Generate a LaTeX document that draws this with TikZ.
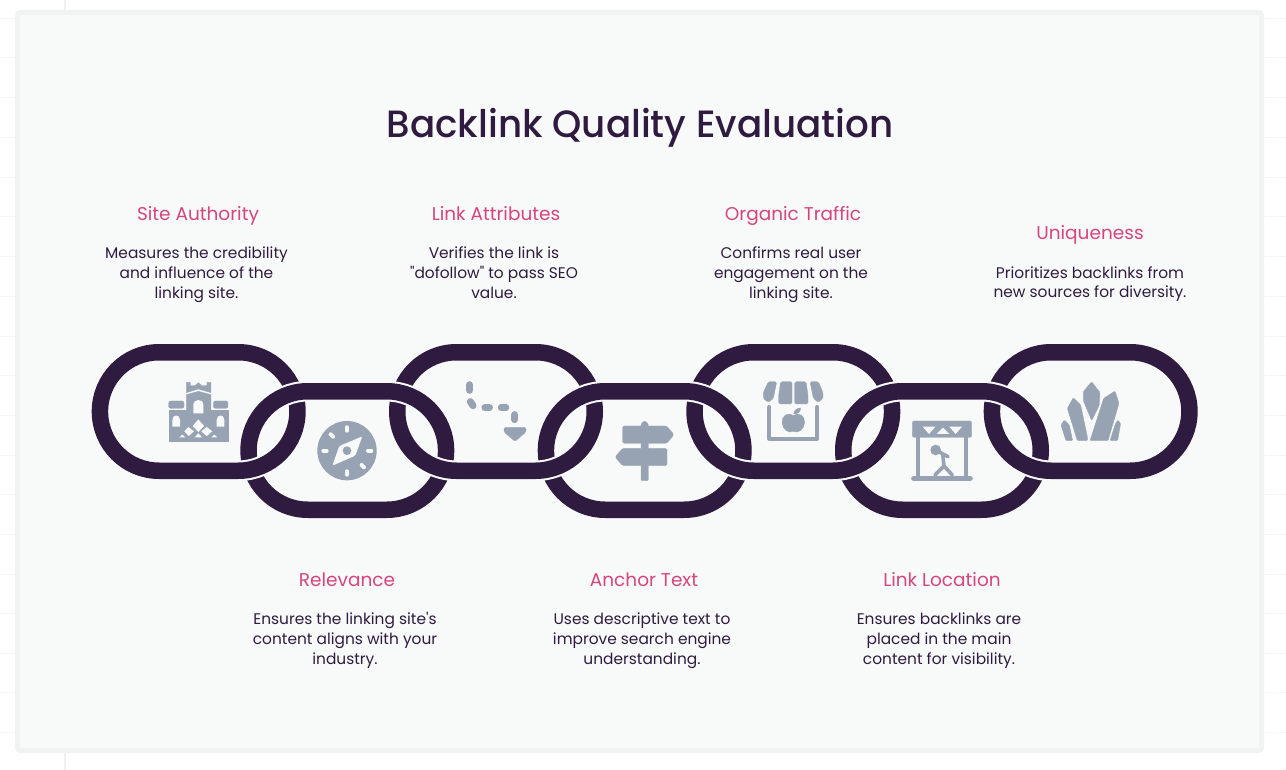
\documentclass[tikz,border=0pt]{standalone}
\usepackage{fontspec}
\newfontfamily\labelfont{Poppins}
\newfontfamily\titlefont[FakeStretch=0.98]{Poppins Medium}
\definecolor{ink}{HTML}{2F1B3F}
\definecolor{hue}{HTML}{D6457F}
\definecolor{slate}{HTML}{97A3B3}
\definecolor{panelbg}{HTML}{F8FAF9}
\definecolor{panelrim}{HTML}{F1F2F2}
\definecolor{gridc}{HTML}{EFF0F0}
\tikzset{
 titletext/.style={text=ink,font=\titlefont\fontsize{38}{48}\selectfont,inner sep=0pt,anchor=base},
 headtext/.style={text=hue,font=\labelfont\fontsize{18.5}{22}\selectfont,inner sep=0pt,anchor=base},
 bodytext/.style={text=ink,font=\labelfont\fontsize{15.4}{19.7}\selectfont,align=center,inner sep=0pt,execute at begin node=\strut,execute at end node=\strut},
 strand/.style={draw=ink,line width=16.5pt},
 halo/.style={draw=panelbg,line width=20.6pt},
 icon/.style={fill=slate,draw=slate,line width=.3pt,line join=round},
 iconline/.style={draw=slate,line cap=round,line join=round},
 cutout/.style={fill=panelbg},
 zA/.style={shift={(80pt,-330pt)},x=.33333pt,y=-.33333pt},
 zB/.style={shift={(440pt,-330pt)},x=.33333pt,y=-.33333pt},
 zC/.style={shift={(820pt,-330pt)},x=.33333pt,y=-.33333pt},
}
\newcommand{\chainloop}[3]{% left, centre y, style
 \path[#3,rounded corners=59.2pt] ({#1+8.25},{#2-59.25}) rectangle ({#1+205.75},{#2+59.25});}
\begin{document}
\begin{tikzpicture}[x=1pt,y=-1pt]
\useasboundingbox (0,0) rectangle (1286,770);
\fill[white] (0,0) rectangle (1286,770);
% faint canvas grid
\foreach \g in {18,57,97,137,177,216,256,296,336,375,415,455,494,534,574,613,653,692,732}
  \draw[gridc,line width=.8pt,densely dotted] (0,\g) -- (1286,\g);
\draw[gridc,line width=1.2pt] (65,0) -- (65,770);
% panel
\draw[panelrim,fill=panelbg,line width=5pt,rounded corners=3pt] (17.5,12.5) rectangle (1261.5,750.5);
% title
\node[titletext] (title) at (640,137.5) {Backlink Quality Evaluation};
% chain: lower-lying links first
\foreach \l in {240.3,537.7,835}{\chainloop{\l}{450.5}{strand}}
\foreach \l in {91.7,389,686.3,983.7}{\chainloop{\l}{411.5}{halo}\chainloop{\l}{411.5}{strand}}
\begin{scope}
\clip (0,300) rectangle (1286,430);
\foreach \l in {240.3,537.7,835}{\chainloop{\l}{450.5}{halo}\chainloop{\l}{450.5}{strand}}
\end{scope}
% castle
\begin{scope}[zA]
\path[icon] (319,157)--(331,157)--(331,167)--(345,167)--(355,158)--(365,167)--(381,167)--(381,157)--(393,157)--(393,188)--(355,177)--(319,188)--cycle;
\path[icon] (319,194)--(355,184)--(393,194)--(393,333)--(319,333)--cycle;
\path[icon,rounded corners=2pt] (266,235)--(266,213)--(312,213)--(312,235)--cycle;
\path[icon,rounded corners=2pt] (400,213)--(444,213)--(444,235)--(400,235)--cycle;
\path[icon] (266,241)--(444,241)--(444,333)--(266,333)--cycle;
\path[cutout] (340,250)--(340,225) .. controls (340,205) and (370,205) .. (370,225)--(370,250)--cycle;
\path[cutout] (277,290)--(277,270) .. controls (277,252) and (300,252) .. (300,270)--(300,290)--cycle;
\path[cutout] (410,290)--(410,270) .. controls (410,252) and (433,252) .. (433,270)--(433,290)--cycle;
\path[cutout] (355,268)--(372,288)--(355,306)--(338,288)--cycle;
\path[cutout] (325,291)--(342,304)--(326,318)--(313,304)--cycle;
\path[cutout] (380,291)--(397,304)--(380,318)--(364,304)--cycle;
\path[cutout] (355,310)--(366,322)--(344,322)--cycle;
\path[cutout] (307,314)--(316,322)--(298,322)--cycle;
\path[cutout] (403,314)--(412,322)--(394,322)--cycle;
\end{scope}
% compass
\begin{scope}[zA]
\fill[slate] (801,362) circle (89);
\foreach \a/\b/\c/\d in {801/292/801/302, 801/424/801/434, 730/362/740/362, 864/362/874/362, 752/313/759/320, 845/405/852/412}
  \draw[panelbg,line width=4pt,line cap=round] (\a,\b) -- (\c,\d);
\path[cutout,rounded corners=1.5pt] (847,319)--(826,377)--(757,407)--(778,348)--cycle;
\fill[slate] (801,362) circle (13);
\end{scope}
% route
\begin{scope}[zB]
\draw[iconline,line width=7pt] (89,164)--(89,181);
\draw[iconline,line width=7pt] (91,215)--(99,227);
\draw[iconline,line width=6.5pt] (134,233)--(149,233);
\draw[iconline,line width=6.5pt] (183,233)--(198,233);
\draw[iconline,line width=7pt] (224,254)--(224,269);
\path[icon,rounded corners=1.5pt] (192,292)--(258,292)--(258,306)--(225,334)--(192,306)--cycle;
\end{scope}
% signpost
\begin{scope}[zB]
\path[icon,rounded corners=1pt] (603,452)--(603,282)--(614,272)--(625,282)--(625,452)--cycle;
\path[icon,rounded corners=1.5pt] (548,288)--(680,288)--(702,314)--(680,340)--(548,340)--cycle;
\path[icon,rounded corners=1.5pt] (681,355)--(548,355)--(525,381)--(548,407)--(681,407)--cycle;
\end{scope}
% store
\begin{scope}[zB]
\path[icon,rounded corners=1.5pt] (985,155)--(1010,155)--(1000,205)--(985,217)--(970,205)--(970,188)--cycle;
\path[icon,rounded corners=1.5pt] (1022,155)--(1056,155)--(1056,222)--(1016,222)--(1016,195)--cycle;
\path[icon,rounded corners=1.5pt] (1064,155)--(1098,155)--(1104,195)--(1104,222)--(1064,222)--cycle;
\path[icon,rounded corners=1.5pt] (1135,155)--(1110,155)--(1120,205)--(1135,217)--(1149,205)--(1149,188)--cycle;
\draw[iconline,line width=4pt] (988,231)--(988,326)--(1132,326)--(1132,231);
\path[icon] (1060,257) .. controls (1042,245) and (1025,258) .. (1026,278) .. controls (1028,298) and (1045,312) .. (1060,304) .. controls (1075,312) and (1092,298) .. (1094,278) .. controls (1095,258) and (1078,245) .. (1060,257)--cycle;
\path[icon] (1061,252) .. controls (1062,240) and (1072,234) .. (1082,234) .. controls (1082,246) and (1072,253) .. (1061,252)--cycle;
\end{scope}
% stage
\begin{scope}[zC]
\path[icon,rounded corners=2pt] (277,273) rectangle (455,322);
\path[cutout] (308,290)--(346,290)--(327,312)--cycle;
\path[cutout] (350,312)--(388,312)--(369,293)--cycle;
\path[cutout] (388,290)--(426,290)--(407,312)--cycle;
\draw[iconline,line width=4pt,line cap=butt] (295,320)--(295,440);
\draw[iconline,line width=4pt,line cap=butt] (437,320)--(437,440);
\draw[iconline,line width=5pt] (281,445)--(451,445);
\fill[slate] (347,360) circle (16);
\draw[iconline,line width=3.6pt] (347,360)--(384,380);
\draw[iconline,line width=3.6pt] (368,372)--(372,408)--(345,435);
\draw[iconline,line width=3.6pt] (372,408)--(397,435);
\end{scope}
% crystals
\begin{scope}[zC]
\path[icon,rounded corners=1pt] (815,155)--(840,188)--(838,225)--(815,272)--(790,212)--(790,185)--cycle;
\path[icon,rounded corners=1pt] (885,183)--(897,220)--(864,332)--(810,332)--(851,205)--cycle;
\path[icon,rounded corners=1pt] (760,203)--(782,225)--(803,325)--(802,332)--(772,332)--(742,235)--cycle;
\path[icon,rounded corners=1pt] (733,270)--(748,285)--(758,332)--(738,332)--(723,285)--cycle;
\path[icon,rounded corners=1pt] (893,270)--(902,280)--(893,332)--(870,332)--(885,285)--cycle;
\end{scope}
% texts
\node[headtext] (h1) at (198,220.3) {Site Authority};
\node[bodytext] (b1) at (196.5,275.5) {Measures the credibility\\and influence of the\\linking site.};
\node[headtext] (h2) at (347,586.3) {Relevance};
\node[bodytext] (b2) at (345,641.5) {Ensures the linking site's\\content aligns with your\\industry.};
\node[headtext] (h3) at (496,220.3) {Link Attributes};
\node[bodytext] (b3) at (494,275.5) {Verifies the link is\\"dofollow" to pass SEO\\value.};
\node[headtext] (h4) at (644,586.3) {Anchor Text};
\node[bodytext] (b4) at (642,641.5) {Uses descriptive text to\\improve search engine\\understanding.};
\node[headtext] (h5) at (793,220.3) {Organic Traffic};
\node[bodytext] (b5) at (791,275.5) {Confirms real user\\engagement on the\\linking site.};
\node[headtext] (h6) at (942,586.3) {Link Location};
\node[bodytext] (b6) at (939,641.5) {Ensures backlinks are\\placed in the main\\content for visibility.};
\node[headtext] (h7) at (1090,239.3) {Uniqueness};
\node[bodytext] (b7) at (1090,285) {Prioritizes backlinks from\\new sources for diversity.};
\end{tikzpicture}
\end{document}
